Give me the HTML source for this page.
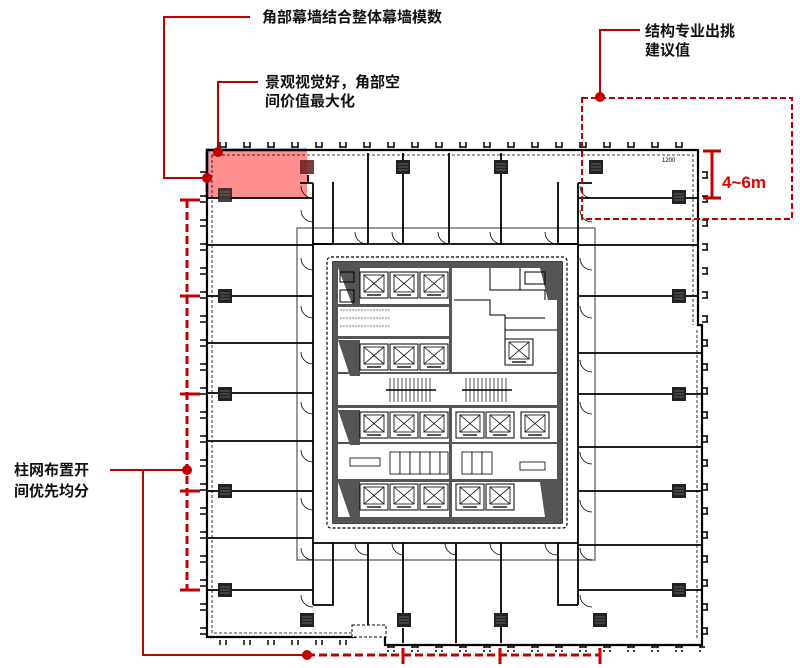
<!DOCTYPE html>
<html><head><meta charset="utf-8"><style>
html,body{margin:0;padding:0;background:#fff;width:800px;height:668px;overflow:hidden}
svg{display:block}
.t{font-family:"Liberation Sans","Noto Sans CJK SC",sans-serif;font-weight:bold;font-size:15px;fill:#111}
</style></head><body>
<svg width="800" height="668" viewBox="0 0 800 668" xmlns="http://www.w3.org/2000/svg">
<defs>
<pattern id="tkH" x="0" y="0" width="24" height="10" patternUnits="userSpaceOnUse">
<path d="M4 0v8M10 0v8M4 7h6" stroke="#000" stroke-width="1.5" fill="none"/></pattern>
<pattern id="tkV" x="0" y="0" width="10" height="24" patternUnits="userSpaceOnUse">
<path d="M0 4h8M0 10h8M7 4v6" stroke="#000" stroke-width="1.5" fill="none"/></pattern>
<g id="col"><rect width="14" height="14" fill="#222"/><path d="M2 4h10M2 7h10M2 10h10" stroke="#777" stroke-width="0.8"/></g>
<g id="el"><rect width="28" height="26" fill="#fff" stroke="#000" stroke-width="1"/><rect x="4" y="3" width="20" height="17" fill="#fff" stroke="#000" stroke-width="0.8"/><path d="M4 3l20 17M24 3l-20 17" stroke="#000" stroke-width="0.8"/><rect x="7" y="22" width="14" height="2" fill="#555"/></g>
<g id="dr"><path d="M0 0a12 12 0 0 0 12 12" fill="none" stroke="#000" stroke-width="0.8"/></g>
</defs>

<rect x="207" y="150" width="100" height="48" fill="#ff8f8f"/>
<path d="M207 198V150H307" stroke="#4a6fb0" stroke-width="3" fill="none"/>

<rect x="208" y="142" width="490" height="8" fill="url(#tkH)"/>
<rect x="199" y="155" width="8" height="480" fill="url(#tkV)"/>
<rect x="702" y="160" width="8" height="480" fill="url(#tkV)"/>
<rect x="208" y="637" width="150" height="8" fill="url(#tkH)"/>
<rect x="385" y="644" width="320" height="8" fill="url(#tkH)"/>

<g stroke="#000" fill="none">
<path d="M207 150H698V325H702V645H385V630H355V637H207Z" stroke-width="2.2"/>
<path d="M212 155H693V325M697 330V640M212 155V633H352" stroke-width="0.8" stroke-dasharray="3,2"/>
</g>

<rect x="297" y="228" width="298" height="332" fill="none" stroke="#777" stroke-width="1.5"/>
<rect x="327" y="257" width="240" height="271" fill="none" stroke="#000" stroke-width="1.2" stroke-dasharray="3,2" rx="4"/>
<rect x="333" y="262" width="229" height="261" fill="#fff" stroke="#000" stroke-width="1.5"/>
<g fill="#555">
<rect x="333" y="262" width="229" height="6"/><rect x="333" y="517" width="229" height="6"/>
<rect x="333" y="262" width="5" height="261"/><rect x="557" y="262" width="5" height="261"/>
<polygon points="338,268 360,268 360,304 352,304"/><polygon points="540,268 557,268 557,300 548,300"/>
<polygon points="338,340 360,340 360,376 350,376"/><polygon points="338,410 360,410 360,445 350,445"/>
<polygon points="338,482 360,482 360,517 350,517"/><polygon points="540,482 557,482 557,517 545,517"/>
<rect x="449" y="268" width="3" height="104"/><rect x="449" y="405" width="3" height="112"/>
<rect x="333" y="304" width="118" height="3"/><rect x="333" y="336" width="118" height="3"/>
<rect x="333" y="372" width="229" height="2"/><rect x="333" y="405" width="229" height="3"/>
<rect x="333" y="442" width="229" height="2"/><rect x="333" y="479" width="229" height="3"/>
</g>
<use href="#el" x="360" y="272"/><use href="#el" x="390" y="272"/><use href="#el" x="420" y="272"/>
<use href="#el" x="360" y="344"/><use href="#el" x="390" y="344"/><use href="#el" x="420" y="344"/>
<use href="#el" x="360" y="412"/><use href="#el" x="390" y="412"/><use href="#el" x="420" y="412"/>
<use href="#el" x="456" y="412"/><use href="#el" x="486" y="412"/><use href="#el" x="521" y="412"/>
<use href="#el" x="360" y="484"/><use href="#el" x="390" y="484"/><use href="#el" x="420" y="484"/>
<use href="#el" x="456" y="484"/><use href="#el" x="486" y="484"/>
<use href="#el" x="505" y="339"/>
<g stroke="#000" stroke-width="0.7">
<path d="M390 378v24M394 378v24M398 378v24M402 378v24M406 378v24M410 378v24M414 378v24M418 378v24M422 378v24M426 378v24M430 378v24"/>
<path d="M466 378v24M470 378v24M474 378v24M478 378v24M482 378v24M486 378v24M490 378v24M494 378v24M498 378v24M502 378v24M506 378v24"/>
<path d="M386 390h50M462 390h50" stroke-width="1.5"/>
</g>
<g stroke="#000" stroke-width="0.8" fill="#fff">
<rect x="390" y="452" width="10" height="22"/><rect x="400" y="452" width="10" height="22"/><rect x="410" y="452" width="10" height="22"/><rect x="420" y="452" width="10" height="22"/><rect x="430" y="452" width="10" height="22"/><rect x="440" y="452" width="8" height="22"/>
<rect x="462" y="452" width="10" height="22"/><rect x="472" y="452" width="10" height="22"/><rect x="482" y="452" width="10" height="22"/>
<rect x="350" y="458" width="30" height="8"/><rect x="520" y="462" width="25" height="8"/>
</g>
<g stroke="#000" stroke-width="1" fill="none">
<path d="M454 300H490V315H505V340M490 268V290H520V268M520 290H545V300M505 318H545M505 330H557"/>
<rect x="340" y="272" width="14" height="10"/><rect x="340" y="290" width="14" height="12"/>
<rect x="525" y="272" width="20" height="12"/>
<path d="M340 310h50M340 318h50M340 326h50" stroke-width="0.5" stroke-dasharray="2,1"/>
</g>

<g stroke="#000" stroke-width="1.8" fill="none">
<path d="M313 183V605M578 183V605"/>
<path d="M313 244H578M313 543H578"/>
<path d="M333 182V244H313M558 182V244H578M333 543V605H313M558 543V605H578"/>
<path d="M313 183H300M578 183H592"/>
<path d="M368 153V244M403 153V244M449 153V244M501 153V244"/>
<path d="M368 543V630M403 543V615M456 543V643M501 543V643M403 628V643"/>
<path d="M208 198H313M208 245H313M208 296H313M208 343H313M208 393H313M208 441H313M208 491H313M208 538H313M208 590H313"/>
<path d="M578 198H697M578 245H697M578 296H697M578 353H702M578 394H702M578 447H702M578 491H702M578 545H702M578 590H702"/>
<path d="M308 175V183"/>
</g>
<rect x="352" y="625" width="34" height="12" fill="#fff" stroke="#000" stroke-width="1" stroke-dasharray="3,2"/>

<g>
<use href="#dr" x="301" y="186"/><use href="#dr" x="301" y="210"/><use href="#dr" x="301" y="258"/>
<use href="#dr" x="301" y="306"/><use href="#dr" x="301" y="352"/><use href="#dr" x="301" y="402"/>
<use href="#dr" x="301" y="450"/><use href="#dr" x="301" y="498"/><use href="#dr" x="301" y="548"/><use href="#dr" x="301" y="595"/>
<use href="#dr" x="580" y="186"/><use href="#dr" x="580" y="210"/><use href="#dr" x="580" y="258"/>
<use href="#dr" x="580" y="306"/><use href="#dr" x="580" y="360"/><use href="#dr" x="580" y="402"/>
<use href="#dr" x="580" y="452"/><use href="#dr" x="580" y="500"/><use href="#dr" x="580" y="548"/><use href="#dr" x="580" y="595"/>
<use href="#dr" x="355" y="232"/><use href="#dr" x="392" y="232"/><use href="#dr" x="438" y="232"/><use href="#dr" x="490" y="232"/><use href="#dr" x="545" y="232"/>
<use href="#dr" x="355" y="543"/><use href="#dr" x="392" y="543"/><use href="#dr" x="445" y="543"/><use href="#dr" x="490" y="543"/><use href="#dr" x="545" y="543"/>
</g>

<g>
<use href="#col" x="300" y="160" opacity="0.6"/><use href="#col" x="396" y="160"/><use href="#col" x="494" y="160"/><use href="#col" x="589" y="160"/>
<use href="#col" x="218" y="188" opacity="0.85"/><use href="#col" x="672" y="190"/>
<use href="#col" x="218" y="289"/><use href="#col" x="218" y="387"/><use href="#col" x="218" y="484"/><use href="#col" x="218" y="583"/>
<use href="#col" x="672" y="289"/><use href="#col" x="672" y="387"/><use href="#col" x="672" y="484"/><use href="#col" x="672" y="583"/>
<use href="#col" x="300" y="613"/><use href="#col" x="397" y="613"/><use href="#col" x="494" y="613"/><use href="#col" x="593" y="613"/>
</g>
<rect x="300" y="160" width="14" height="14" fill="#7a2020" opacity="0.7"/>
<text x="662" y="162" font-size="6" font-family="Liberation Sans">1200</text>

<g stroke="#c00000" stroke-width="2" fill="none">
<path d="M250 17H164V178H207"/>
<path d="M258 82H218V152"/>
<path d="M640 30H600V97"/>
<rect x="582" y="98" width="210" height="121" stroke-dasharray="6,3"/>
<path d="M712 151V198M703 151H721M703 198H721" stroke-width="3"/>
<path d="M187 200V590" stroke-width="3" stroke-dasharray="8,4"/>
<path d="M180 200H200M180 296H200M180 394H200M180 491H200M180 590H200" stroke-width="3"/>
<path d="M110 470H187M143 470V655H307"/>
<path d="M307 655H600" stroke-width="3" stroke-dasharray="8,4"/>
<path d="M403 648V664M500 648V664M600 648V664" stroke-width="3"/>
</g>
<g fill="#c00000">
<circle cx="207" cy="178" r="5"/><circle cx="218" cy="152" r="5"/><circle cx="600" cy="97" r="5"/>
<circle cx="187" cy="470" r="5"/><circle cx="307" cy="655" r="5"/>
</g>

<text class="t" x="262" y="22">角部幕墙结合整体幕墙模数</text>
<text class="t" x="265" y="87">景观视觉好，角部空</text>
<text class="t" x="265" y="106">间价值最大化</text>
<text class="t" x="645" y="36">结构专业出挑</text>
<text class="t" x="645" y="55">建议值</text>
<text class="t" x="14" y="475">柱网布置开</text>
<text class="t" x="14" y="496">间优先均分</text>
<text x="722" y="188" font-family="Liberation Sans" font-weight="bold" font-size="17" fill="#e00000">4~6m</text>
</svg>
</body></html>
